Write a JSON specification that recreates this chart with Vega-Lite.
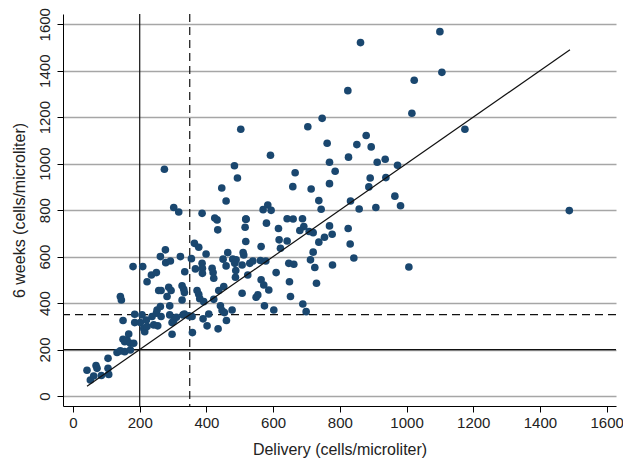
{
  "$schema": "https://vega.github.io/schema/vega-lite/v6.json",
  "width": 553,
  "height": 392,
  "autosize": {"type": "none"},
  "padding": {"left": 63, "top": 14, "right": 7, "bottom": 58},
  "background": "white",
  "config": {
    "view": {"stroke": null},
    "font": "Liberation Sans",
    "axis": {
      "domainColor": "#000000",
      "domainWidth": 1,
      "tickColor": "#000000",
      "tickWidth": 1,
      "tickSize": 6,
      "labelFont": "Liberation Sans",
      "labelFontSize": 15,
      "labelColor": "#222222",
      "titleFont": "Liberation Sans",
      "titleFontSize": 16,
      "titleFontWeight": "normal",
      "titleColor": "#222222"
    }
  },
  "datasets": {
    "pts": [
      {"delivery":42,"weeks6":111},{"delivery":52,"weeks6":69},{"delivery":62,"weeks6":86},{"delivery":69,"weeks6":131},{"delivery":72,"weeks6":119},{"delivery":85,"weeks6":88},{"delivery":105,"weeks6":162},{"delivery":105,"weeks6":119},{"delivery":107,"weeks6":93},{"delivery":132,"weeks6":187},{"delivery":142,"weeks6":194},{"delivery":142,"weeks6":428},{"delivery":145,"weeks6":413},{"delivery":150,"weeks6":325},{"delivery":150,"weeks6":244},{"delivery":155,"weeks6":234},{"delivery":155,"weeks6":191},{"delivery":162,"weeks6":241},{"delivery":167,"weeks6":267},{"delivery":172,"weeks6":227},{"delivery":172,"weeks6":198},{"delivery":182,"weeks6":227},{"delivery":180,"weeks6":557},{"delivery":185,"weeks6":352},{"delivery":185,"weeks6":316},{"delivery":202,"weeks6":316},{"delivery":207,"weeks6":349},{"delivery":209,"weeks6":557},{"delivery":212,"weeks6":291},{"delivery":215,"weeks6":277},{"delivery":220,"weeks6":327},{"delivery":222,"weeks6":492},{"delivery":222,"weeks6":299},{"delivery":235,"weeks6":521},{"delivery":237,"weeks6":342},{"delivery":242,"weeks6":306},{"delivery":250,"weeks6":531},{"delivery":250,"weeks6":356},{"delivery":252,"weeks6":370},{"delivery":254,"weeks6":302},{"delivery":257,"weeks6":454},{"delivery":262,"weeks6":600},{"delivery":264,"weeks6":454},{"delivery":262,"weeks6":385},{"delivery":264,"weeks6":342},{"delivery":277,"weeks6":629},{"delivery":278,"weeks6":574},{"delivery":282,"weeks6":428},{"delivery":287,"weeks6":468},{"delivery":292,"weeks6":581},{"delivery":290,"weeks6":388},{"delivery":290,"weeks6":349},{"delivery":294,"weeks6":454},{"delivery":297,"weeks6":266},{"delivery":297,"weeks6":316},{"delivery":302,"weeks6":325},{"delivery":310,"weeks6":339},{"delivery":322,"weeks6":600},{"delivery":327,"weeks6":474},{"delivery":327,"weeks6":413},{"delivery":330,"weeks6":349},{"delivery":332,"weeks6":459},{"delivery":335,"weeks6":535},{"delivery":334,"weeks6":445},{"delivery":334,"weeks6":353},{"delivery":347,"weeks6":345},{"delivery":357,"weeks6":342},{"delivery":355,"weeks6":591},{"delivery":358,"weeks6":273},{"delivery":364,"weeks6":657},{"delivery":367,"weeks6":547},{"delivery":377,"weeks6":640},{"delivery":372,"weeks6":454},{"delivery":377,"weeks6":438},{"delivery":380,"weeks6":419},{"delivery":387,"weeks6":571},{"delivery":388,"weeks6":550},{"delivery":388,"weeks6":528},{"delivery":390,"weeks6":332},{"delivery":392,"weeks6":406},{"delivery":399,"weeks6":611},{"delivery":402,"weeks6":302},{"delivery":407,"weeks6":353},{"delivery":417,"weeks6":550},{"delivery":420,"weeks6":531},{"delivery":422,"weeks6":507},{"delivery":422,"weeks6":416},{"delivery":432,"weeks6":758},{"delivery":434,"weeks6":715},{"delivery":435,"weeks6":289},{"delivery":437,"weeks6":454},{"delivery":442,"weeks6":388},{"delivery":447,"weeks6":368},{"delivery":450,"weeks6":589},{"delivery":452,"weeks6":471},{"delivery":454,"weeks6":359},{"delivery":459,"weeks6":560},{"delivery":464,"weeks6":617},{"delivery":460,"weeks6":325},{"delivery":477,"weeks6":370},{"delivery":479,"weeks6":589},{"delivery":485,"weeks6":571},{"delivery":489,"weeks6":586},{"delivery":487,"weeks6":511},{"delivery":488,"weeks6":540},{"delivery":507,"weeks6":564},{"delivery":510,"weeks6":617},{"delivery":512,"weeks6":607},{"delivery":507,"weeks6":442},{"delivery":518,"weeks6":665},{"delivery":516,"weeks6":726},{"delivery":519,"weeks6":761},{"delivery":524,"weeks6":521},{"delivery":530,"weeks6":571},{"delivery":539,"weeks6":581},{"delivery":549,"weeks6":425},{"delivery":554,"weeks6":435},{"delivery":564,"weeks6":643},{"delivery":562,"weeks6":583},{"delivery":564,"weeks6":500},{"delivery":572,"weeks6":478},{"delivery":574,"weeks6":388},{"delivery":580,"weeks6":744},{"delivery":578,"weeks6":581},{"delivery":587,"weeks6":456},{"delivery":602,"weeks6":370},{"delivery":609,"weeks6":531},{"delivery":616,"weeks6":721},{"delivery":618,"weeks6":672},{"delivery":622,"weeks6":636},{"delivery":642,"weeks6":667},{"delivery":647,"weeks6":571},{"delivery":649,"weeks6":492},{"delivery":652,"weeks6":428},{"delivery":662,"weeks6":567},{"delivery":660,"weeks6":762},{"delivery":692,"weeks6":729},{"delivery":680,"weeks6":712},{"delivery":689,"weeks6":396},{"delivery":699,"weeks6":363},{"delivery":708,"weeks6":708},{"delivery":712,"weeks6":586},{"delivery":720,"weeks6":619},{"delivery":725,"weeks6":553},{"delivery":730,"weeks6":485},{"delivery":737,"weeks6":662},{"delivery":754,"weeks6":683},{"delivery":769,"weeks6":732},{"delivery":777,"weeks6":696},{"delivery":778,"weeks6":564},{"delivery":720,"weeks6":703},{"delivery":825,"weeks6":721},{"delivery":831,"weeks6":654},{"delivery":842,"weeks6":594},{"delivery":1007,"weeks6":555},
      {"delivery":274,"weeks6":976},{"delivery":302,"weeks6":811},{"delivery":317,"weeks6":792},{"delivery":387,"weeks6":786},{"delivery":425,"weeks6":766},{"delivery":446,"weeks6":895},{"delivery":459,"weeks6":839},{"delivery":484,"weeks6":991},{"delivery":493,"weeks6":938},{"delivery":503,"weeks6":1148},{"delivery":518,"weeks6":761},{"delivery":570,"weeks6":802},{"delivery":584,"weeks6":822},{"delivery":594,"weeks6":799},{"delivery":592,"weeks6":1036},{"delivery":642,"weeks6":763},{"delivery":659,"weeks6":901},{"delivery":666,"weeks6":961},{"delivery":688,"weeks6":763},{"delivery":704,"weeks6":1159},{"delivery":714,"weeks6":891},{"delivery":737,"weeks6":841},{"delivery":744,"weeks6":804},{"delivery":747,"weeks6":1195},{"delivery":762,"weeks6":1088},{"delivery":769,"weeks6":1006},{"delivery":769,"weeks6":914},{"delivery":786,"weeks6":967},{"delivery":824,"weeks6":1314},{"delivery":862,"weeks6":1521},{"delivery":1100,"weeks6":1568},{"delivery":1106,"weeks6":1393},{"delivery":1023,"weeks6":1359},{"delivery":1016,"weeks6":1217},{"delivery":1175,"weeks6":1148},{"delivery":879,"weeks6":1121},{"delivery":851,"weeks6":1082},{"delivery":894,"weeks6":1072},{"delivery":826,"weeks6":1028},{"delivery":912,"weeks6":1006},{"delivery":936,"weeks6":1019},{"delivery":973,"weeks6":993},{"delivery":891,"weeks6":938},{"delivery":938,"weeks6":940},{"delivery":887,"weeks6":900},{"delivery":832,"weeks6":839},{"delivery":965,"weeks6":860},{"delivery":982,"weeks6":819},{"delivery":858,"weeks6":805},{"delivery":908,"weeks6":811},{"delivery":1488,"weeks6":798}
    ],
    "identity": [
      {"delivery": 42, "weeks6": 42},
      {"delivery": 1490, "weeks6": 1490}
    ],
    "xrefs": [
      {"value": 200, "style": "solid"},
      {"value": 350, "style": "dashed"}
    ],
    "yrefs": [
      {"value": 200, "style": "solid"},
      {"value": 350, "style": "dashed"}
    ]
  },
  "layer": [
    {
      "data": {"name": "pts"},
      "mark": {"type": "point", "opacity": 0},
      "encoding": {
        "x": {
          "field": "delivery", "type": "quantitative",
          "scale": {"domain": [-30, 1628], "nice": false, "zero": false},
          "axis": {
            "title": "Delivery (cells/microliter)",
            "values": [0, 200, 400, 600, 800, 1000, 1200, 1400, 1600],
            "format": "d",
            "grid": false,
            "labelPadding": 3,
            "titlePadding": 11
          }
        },
        "y": {
          "field": "weeks6", "type": "quantitative",
          "scale": {"domain": [-43, 1644], "nice": false, "zero": false},
          "axis": {
            "title": "6 weeks (cells/microliter)",
            "values": [0, 200, 400, 600, 800, 1000, 1200, 1400, 1600],
            "format": "d",
            "grid": true,
            "gridColor": "#a6a6a6",
            "gridWidth": 1.5,
            "labelAngle": 270,
            "labelAlign": "center",
            "labelBaseline": "bottom",
            "labelPadding": 5,
            "titlePadding": 10
          }
        }
      }
    },
    {
      "data": {"name": "xrefs"},
      "mark": {"type": "rule", "color": "#111111", "strokeWidth": 1.2},
      "encoding": {
        "x": {"field": "value", "type": "quantitative"},
        "strokeDash": {
          "field": "style", "type": "nominal",
          "scale": {"domain": ["solid", "dashed"], "range": [[1, 0], [8, 5]]},
          "legend": null
        }
      }
    },
    {
      "data": {"name": "yrefs"},
      "mark": {"type": "rule", "color": "#111111", "strokeWidth": 1.2},
      "encoding": {
        "y": {"field": "value", "type": "quantitative"},
        "strokeDash": {
          "field": "style", "type": "nominal",
          "scale": {"domain": ["solid", "dashed"], "range": [[1, 0], [8, 5]]},
          "legend": null
        }
      }
    },
    {
      "data": {"name": "pts"},
      "mark": {"type": "circle", "size": 58, "color": "#1a476f", "opacity": 1},
      "encoding": {
        "x": {"field": "delivery", "type": "quantitative"},
        "y": {"field": "weeks6", "type": "quantitative"}
      }
    },
    {
      "data": {"name": "identity"},
      "mark": {"type": "line", "color": "#111111", "strokeWidth": 1.2},
      "encoding": {
        "x": {"field": "delivery", "type": "quantitative"},
        "y": {"field": "weeks6", "type": "quantitative"}
      }
    }
  ]
}
